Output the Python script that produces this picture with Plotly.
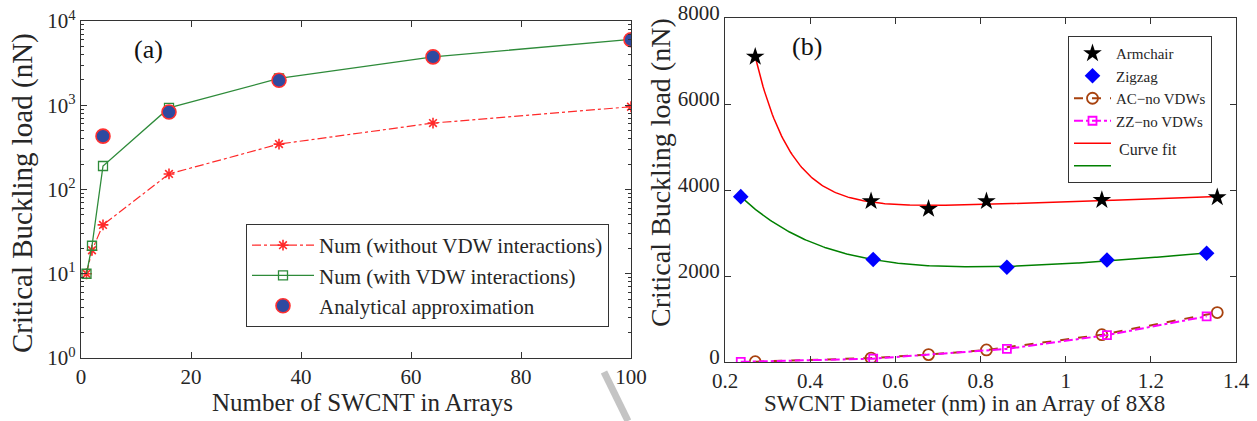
import numpy as np
import plotly.graph_objects as go

# ---------------- Panel (a) data ----------------
n_arrays = [1, 2, 4, 16, 36, 64, 100]
num_without_vdw = [10, 19, 38, 153, 346, 615, 960]
num_with_vdw = [10, 21.5, 190, 930, 2080, 3750, 6050]
analytic_n = [4, 16, 36, 64, 100]
analytic_vals = [430, 830, 1980, 3750, 6000]

# ---------------- Panel (b) data ----------------
ac_diam = [0.271, 0.543, 0.678, 0.814, 1.085, 1.356]
armchair = [7100, 3740, 3560, 3740, 3765, 3830]
zz_diam = [0.237, 0.548, 0.862, 1.097, 1.331]
zigzag = [3845, 2385, 2205, 2372, 2528]
ac_novdw = [8, 92, 172, 280, 635, 1150]
zz_novdw = [3, 78, 305, 625, 1062]

FONT = "Liberation Serif"
AXC = "#333333"
TXT = "#262626"


def exp_fit(x, y):
    """Least-squares fit y = A exp(-k x) + B + C x (k from a grid)."""
    x = np.asarray(x, float)
    y = np.asarray(y, float)
    best = None
    for k in np.linspace(0.5, 30, 600):
        M = np.column_stack([np.exp(-k * x), np.ones_like(x), x])
        coef, *_ = np.linalg.lstsq(M, y, rcond=None)
        r = np.sum((M @ coef - y) ** 2)
        if best is None or r < best[0]:
            best = (r, k, coef)
    _, k, c = best
    xs = np.linspace(x.min(), x.max(), 300)
    return xs, c[0] * np.exp(-k * xs) + c[1] + c[2] * xs


fit_ac_x, fit_ac_y = exp_fit(ac_diam, armchair)
fit_zz_x, fit_zz_y = exp_fit(zz_diam, zigzag)

fig = go.Figure()

# ---- panel (a) traces ----
fig.add_trace(go.Scatter(
    x=n_arrays, y=num_without_vdw, mode="lines+markers",
    name="Num (without VDW interactions)",
    line=dict(color="#ff2a2a", width=1.2, dash="dashdot"),
    marker=dict(symbol="asterisk-open", size=9, color="#ff2a2a",
                line=dict(color="#ff2a2a", width=1.6)),
    xaxis="x", yaxis="y", legend="legend"))
fig.add_trace(go.Scatter(
    x=n_arrays, y=num_with_vdw, mode="lines+markers",
    name="Num (with VDW interactions)",
    line=dict(color="#2e8b3a", width=1.3),
    marker=dict(symbol="square-open", size=9, color="#2e8b3a",
                line=dict(color="#2e8b3a", width=1.3)),
    xaxis="x", yaxis="y", legend="legend"))
fig.add_trace(go.Scatter(
    x=analytic_n, y=analytic_vals, mode="markers",
    name="Analytical approximation",
    marker=dict(symbol="circle", size=14, color="#2f4aa0",
                line=dict(color="#ff3030", width=1.6)),
    xaxis="x", yaxis="y", legend="legend"))

# ---- panel (b) traces ----
fig.add_trace(go.Scatter(
    x=fit_ac_x, y=fit_ac_y, mode="lines", name=" ", showlegend=False,
    line=dict(color="#ff0000", width=1.5), xaxis="x2", yaxis="y2"))
fig.add_trace(go.Scatter(
    x=fit_zz_x, y=fit_zz_y, mode="lines", name=" ", showlegend=False,
    line=dict(color="#008000", width=1.5), xaxis="x2", yaxis="y2"))
fig.add_trace(go.Scatter(
    x=ac_diam, y=armchair, mode="markers", name="Armchair",
    marker=dict(symbol="star", size=14, color="#000000"),
    xaxis="x2", yaxis="y2", legend="legend2"))
fig.add_trace(go.Scatter(
    x=zz_diam, y=zigzag, mode="markers", name="Zigzag",
    marker=dict(symbol="diamond", size=12, color="#0000ff"),
    xaxis="x2", yaxis="y2", legend="legend2"))
fig.add_trace(go.Scatter(
    x=ac_diam, y=ac_novdw, mode="lines+markers", name="AC\u2212no VDWs",
    line=dict(color="#a8420e", width=2, dash="dash"),
    marker=dict(symbol="circle-open", size=11, color="#a8420e",
                line=dict(color="#a8420e", width=1.8)),
    xaxis="x2", yaxis="y2", legend="legend2"))
fig.add_trace(go.Scatter(
    x=zz_diam, y=zz_novdw, mode="lines+markers", name="ZZ\u2212no VDWs",
    line=dict(color="#ff00ff", width=2, dash="dashdot"),
    marker=dict(symbol="square-open", size=8, color="#ff00ff",
                line=dict(color="#ff00ff", width=1.8)),
    xaxis="x2", yaxis="y2", legend="legend2"))
# legend-only entries for the two curve fits
fig.add_trace(go.Scatter(
    x=[None], y=[None], mode="lines", name=" ",
    line=dict(color="#ff0000", width=1.5), xaxis="x2", yaxis="y2",
    legend="legend2"))
fig.add_trace(go.Scatter(
    x=[None], y=[None], mode="lines", name=" ",
    line=dict(color="#008000", width=1.5), xaxis="x2", yaxis="y2",
    legend="legend2"))

W, H = 1257, 421
px = lambda v: v / W
py = lambda v: (H - v) / H

decades = [1, 10, 100, 1000, 10000]
dec_text = ["10<sup>%d</sup>" % i for i in range(5)]
minor_vals = [m * 10 ** e for e in range(4) for m in range(2, 10)]

axis_common = dict(showline=True, linecolor=AXC, linewidth=1.2, mirror="ticks",
                   ticks="inside", tickcolor=AXC, ticklen=6, tickwidth=1,
                   showgrid=False, zeroline=False, automargin=False,
                   tickfont=dict(family=FONT, size=21, color=TXT))


def note(text, x, y, size, angle=0, xa="center", ya="middle", color=TXT):
    return dict(text=text, x=px(x), y=py(y), xref="paper", yref="paper",
                xanchor=xa, yanchor=ya, textangle=angle, showarrow=False,
                font=dict(family=FONT, size=size, color=color))


fig.update_layout(
    width=W, height=H, margin=dict(l=0, r=0, t=0, b=0, autoexpand=False),
    paper_bgcolor="white", plot_bgcolor="white",
    font=dict(family=FONT, color=TXT),
    xaxis=dict(domain=[px(81), px(631)], range=[0, 100],
               tickvals=[0, 20, 40, 60, 80, 100],
               anchor="y", **axis_common),
    yaxis=dict(domain=[py(358), py(21)], type="log", range=[0, 4],
               tickvals=decades, ticktext=dec_text,
               minor=dict(tickvals=minor_vals, ticks="inside", ticklen=3,
                          tickcolor=AXC, showgrid=False),
               anchor="x", **axis_common),
    xaxis2=dict(domain=[px(725), px(1236)], range=[0.2, 1.4],
                tickvals=[0.2, 0.4, 0.6, 0.8, 1.0, 1.2, 1.4],
                ticktext=["0.2", "0.4", "0.6", "0.8", "1", "1.2", "1.4"],
                anchor="y2", **axis_common),
    yaxis2=dict(domain=[py(362), py(18)], range=[0, 8000],
                tickvals=[0, 2000, 4000, 6000, 8000],
                ticklabelshift=-5,
                anchor="x2", **axis_common),
    legend=dict(x=px(246), y=py(224), xanchor="left", yanchor="top",
                bgcolor="white", bordercolor=AXC, borderwidth=1,
                font=dict(family=FONT, size=21, color=TXT),
                itemwidth=62, tracegroupgap=0),
    legend2=dict(x=px(1068), y=py(36), xanchor="left", yanchor="top",
                 bgcolor="white", bordercolor=AXC, borderwidth=1,
                 font=dict(family=FONT, size=15, color=TXT),
                 itemwidth=37, tracegroupgap=0),
    annotations=[
        note("(a)", 148, 50, 26, color="#111111"),
        note("(b)", 807, 46, 26, color="#111111"),
        note("Curve fit", 1117, 150, 16, xa="left"),
        note("Number of SWCNT in Arrays", 362, 402, 25),
        note("SWCNT Diameter (nm) in an Array of 8X8", 964, 403, 23),
        note("Critical Buckling load (nN)", 22, 193, 29, angle=-90),
        note("Critical Buckling load (nN)", 660, 173, 28, angle=-90),
    ],
    shapes=[
        # faint grey watermark fragment visible in the source image
        dict(type="line", xref="paper", yref="paper",
             x0=px(604), y0=py(372), x1=px(628), y1=py(421),
             line=dict(color="#c4c4c4", width=7), layer="below"),
    ],
)

fig.write_html("out.html")
